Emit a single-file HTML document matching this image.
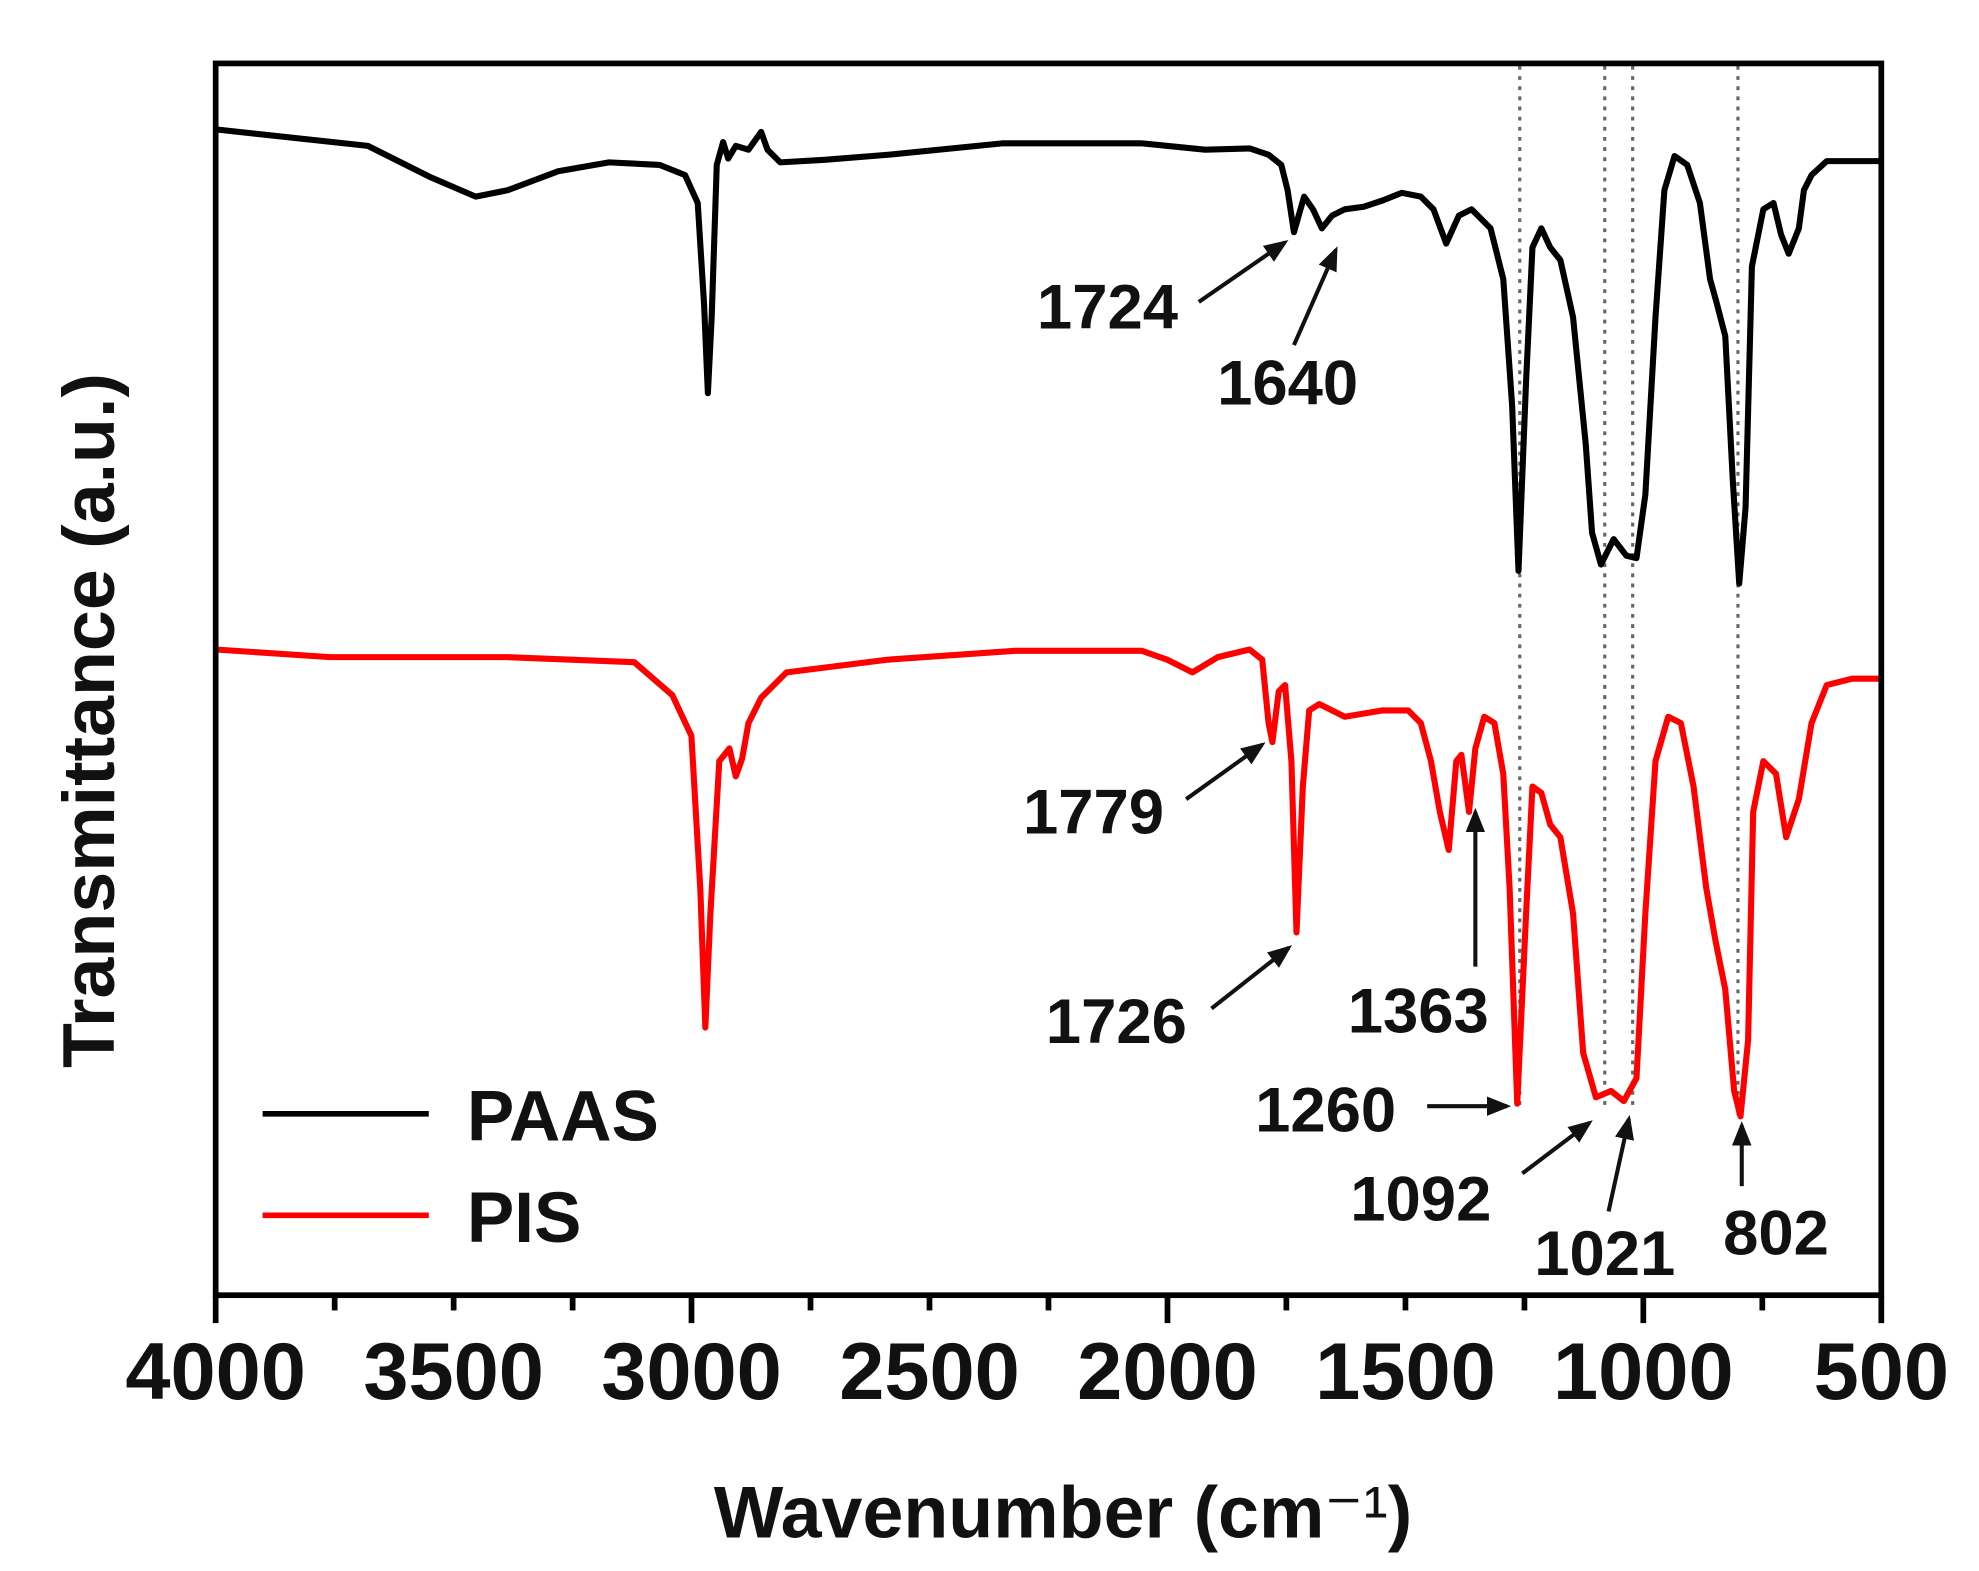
<!DOCTYPE html>
<html><head><meta charset="utf-8"><style>
html,body{margin:0;padding:0;background:#fff;}
svg{display:block;}
text{font-family:"Liberation Sans",Arial,sans-serif;font-weight:bold;fill:#111;}
</style></head><body>
<svg width="1979" height="1571" viewBox="0 0 1560 1238.4" xmlns="http://www.w3.org/2000/svg">
<defs>
<marker id="ah" markerWidth="6" markerHeight="6" refX="5" refY="3" orient="auto" markerUnits="strokeWidth">
<path d="M0,0.6 L6,3 L0,5.4 Z" fill="#111"/></marker>
</defs>
<g stroke="#666" stroke-width="2.5" stroke-dasharray="3,5">
<line x1="1198" y1="52" x2="1198" y2="875"/>
<line x1="1265" y1="52" x2="1265" y2="875"/>
<line x1="1287" y1="52" x2="1287" y2="875"/>
<line x1="1370" y1="52" x2="1370" y2="880"/>
</g>
<polyline fill="none" stroke="#000" stroke-width="4.8" stroke-linejoin="round" points="170,102 290,115 340,140 375,155 400,150 440,135 480,128 520,130 540,138 550,160 555,240 558,310 561,250 565,130 570,112 574,125 580,115 590,118 600,104 605,118 615,128 650,126 700,122 790,113 900,113 950,118 985,117 1000,122 1010,130 1015,150 1020,183 1028,155 1035,165 1042,180 1050,170 1060,165 1075,163 1090,158 1105,152 1120,155 1130,165 1140,192 1150,170 1160,165 1165,170 1175,180 1185,220 1192,320 1197,450 1203,300 1208,195 1215,180 1222,195 1230,205 1240,250 1250,350 1255,420 1262,445 1272,425 1282,438 1290,440 1297,390 1305,250 1312,150 1320,123 1330,130 1340,160 1348,220 1353,238 1360,265 1366,380 1371,460 1376,400 1381,210 1390,165 1398,160 1404,185 1410,200 1418,180 1422,150 1428,138 1440,127 1483,127"/>
<polyline fill="none" stroke="#f00" stroke-width="4.8" stroke-linejoin="round" points="170,512 260,518 300,518 400,518 500,522 530,548 545,580 552,700 556,810 560,720 567,600 575,590 580,612 585,598 590,570 600,550 620,530 700,520 800,513 900,513 920,520 940,530 960,518 985,512 995,520 1000,570 1003,585 1008,545 1013,540 1018,600 1022,735 1027,620 1032,560 1040,555 1060,565 1090,560 1110,560 1120,570 1128,600 1135,640 1142,670 1148,600 1152,595 1158,640 1163,590 1170,565 1178,570 1185,610 1190,700 1196,870 1203,720 1208,620 1215,625 1222,650 1230,660 1240,720 1248,830 1258,865 1270,860 1280,868 1290,850 1297,720 1305,600 1315,565 1325,570 1335,620 1345,700 1352,740 1360,780 1367,860 1372,880 1378,820 1382,640 1390,600 1400,610 1408,660 1418,630 1428,570 1440,540 1460,535 1483,535"/>
<rect x="170" y="50" width="1313" height="971" fill="none" stroke="#000" stroke-width="4.5"/>
<g stroke="#000" stroke-width="4.5">
<line x1="170" y1="1021" x2="170" y2="1043"/><line x1="357.6" y1="1021" x2="357.6" y2="1033"/>
<line x1="545.1" y1="1021" x2="545.1" y2="1043"/><line x1="732.7" y1="1021" x2="732.7" y2="1033"/>
<line x1="920.3" y1="1021" x2="920.3" y2="1043"/><line x1="1107.9" y1="1021" x2="1107.9" y2="1033"/>
<line x1="1295.4" y1="1021" x2="1295.4" y2="1043"/><line x1="1389.2" y1="1021" x2="1389.2" y2="1033"/>
<line x1="1483" y1="1021" x2="1483" y2="1043"/><line x1="1201.7" y1="1021" x2="1201.7" y2="1033"/>
<line x1="1014" y1="1021" x2="1014" y2="1033"/><line x1="826.5" y1="1021" x2="826.5" y2="1033"/>
<line x1="638.9" y1="1021" x2="638.9" y2="1033"/><line x1="451.4" y1="1021" x2="451.4" y2="1033"/>
<line x1="263.8" y1="1021" x2="263.8" y2="1033"/>
</g>
<g font-size="64" text-anchor="middle">
<text x="170" y="1103">4000</text><text x="357.6" y="1103">3500</text>
<text x="545.1" y="1103">3000</text><text x="732.7" y="1103">2500</text>
<text x="920.3" y="1103">2000</text><text x="1107.9" y="1103">1500</text>
<text x="1295.4" y="1103">1000</text><text x="1483" y="1103">500</text>
</g>
<text x="838" y="1212" font-size="58" text-anchor="middle">Wavenumber (cm<tspan font-weight="normal">⁻¹</tspan>)</text>
<text transform="translate(90,568) rotate(-90)" font-size="58" text-anchor="middle">Transmittance (a.u.)</text>
<line x1="207" y1="878" x2="338" y2="878" stroke="#000" stroke-width="4.5"/>
<text x="368" y="899" font-size="56">PAAS</text>
<line x1="207" y1="958" x2="338" y2="958" stroke="#f00" stroke-width="4.5"/>
<text x="368" y="979" font-size="56">PIS</text>
<g font-size="50" text-anchor="middle">
<text x="873" y="259">1724</text><text x="1015" y="319">1640</text>
<text x="862" y="657">1779</text><text x="880" y="822">1726</text>
<text x="1118" y="814">1363</text><text x="1045" y="892">1260</text>
<text x="1120" y="962">1092</text><text x="1265" y="1005">1021</text>
<text x="1400" y="989">802</text>
</g>
<g stroke="#111" stroke-width="3.2" marker-end="url(#ah)">
<line x1="945" y1="238" x2="1013" y2="191"/>
<line x1="1020" y1="272" x2="1053" y2="197"/>
<line x1="935" y1="630" x2="995" y2="587"/>
<line x1="955" y1="795" x2="1016" y2="747"/>
<line x1="1163" y1="762" x2="1163" y2="640"/>
<line x1="1125" y1="872" x2="1188" y2="872"/>
<line x1="1200" y1="925" x2="1253" y2="885"/>
<line x1="1268" y1="955" x2="1284" y2="882"/>
<line x1="1373" y1="935" x2="1373" y2="887"/>
</g>
</svg>
</body></html>
